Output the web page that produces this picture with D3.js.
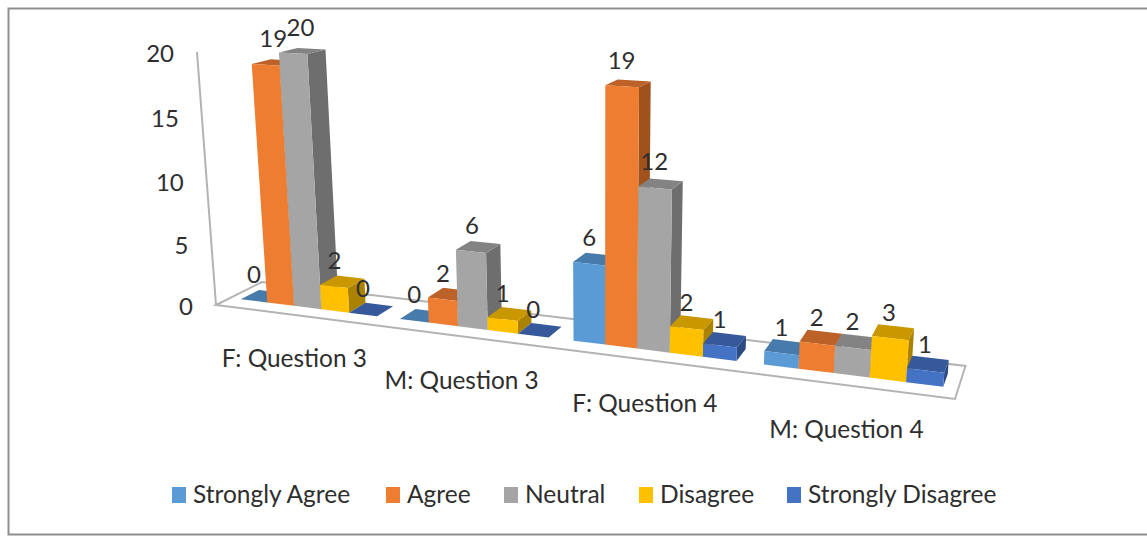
<!DOCTYPE html>
<html>
<head>
<meta charset="utf-8">
<script src="https://cdn.jsdelivr.net/npm/d3@7"></script>
<style>
  html, body { margin: 0; padding: 0; background: #fff; }
  svg { display: block; }
  text { font-family: Lato, "Open Sans", sans-serif; fill: #2e2e2e; }
</style>
</head>
<body>
<div id="chart"></div>
<script>
const categories = ["F: Question 3", "M: Question 3", "F: Question 4", "M: Question 4"];
const seriesNames = ["Strongly Agree", "Agree", "Neutral", "Disagree", "Strongly Disagree"];
const stronglyAgree = [0, 0, 6, 1];
const agree = [19, 2, 19, 2];
const neutral = [20, 6, 12, 2];
const disagree = [2, 1, 2, 3];
const stronglyDisagree = [0, 0, 1, 1];
const valueTicks = [0, 5, 10, 15, 20];

const seriesValues = [stronglyAgree, agree, neutral, disagree, stronglyDisagree];
const frontColors = ["#5b9bd5", "#ed7d31", "#a5a5a5", "#ffc000", "#4472c4"];
const topColors = ["#477bab", "#bc6127", "#838383", "#c99700", "#35599b"];
const sideColors = ["#3c6890", "#a0521d", "#6e6e6e", "#ab8200", "#2d4b83"];

const width = 1147;
const height = 536;

// corners of the floor and top of the value axis, in page pixels
const floorFrontLeft = [216, 305];
const floorFrontRight = [955, 399];
const floorBackLeft = [262, 282];
const axisTop = [197, 52];

// perspective weights for the three chart directions
const wU = 0.83;
const wD = 1.053;
const wH = 0.953;

function column(corner, w) {
  return [w * corner[0] - floorFrontLeft[0], w * corner[1] - floorFrontLeft[1], w - 1];
}
const pU = column(floorFrontRight, wU);
const pD = column(floorBackLeft, wD);
const pH = column(axisTop, wH);

// u along the categories, d into the depth, h up the value axis, all 0..1
function project(u, d, h) {
  const x = pU[0] * u + pD[0] * d + pH[0] * h + floorFrontLeft[0];
  const y = pU[1] * u + pD[1] * d + pH[1] * h + floorFrontLeft[1];
  const w = pU[2] * u + pD[2] * d + pH[2] * h + 1;
  return [x / w, y / w];
}

const uScale = d3.scaleBand()
  .domain(categories)
  .range([0, 1])
  .paddingInner(0.138)
  .paddingOuter(0.069);

const seriesScale = d3.scaleBand()
  .domain(seriesNames)
  .range([0, uScale.bandwidth()]);

const hScale = d3.scaleLinear()
  .domain([0, 20])
  .range([0, 1]);

// bars sit in the middle of the floor depth
const barFront = 0.3;
const barBack = 0.7;

const svg = d3.select("#chart")
  .append("svg")
  .attr("width", width)
  .attr("height", height);

const polygon = d3.line().curve(d3.curveLinearClosed);

svg.append("path")
  .attr("d", `M${width},8.5H8.5V534.5H${width}`)
  .attr("fill", "none")
  .attr("stroke", "#8e8e8e")
  .attr("stroke-width", 2);

// floor and value axis line
svg.append("path")
  .attr("d", polygon([project(0, 0, 0), project(1, 0, 0), project(1, 1, 0), project(0, 1, 0)]))
  .attr("fill", "#fff")
  .attr("stroke", "#b3b3b3")
  .attr("stroke-width", 2);

svg.append("path")
  .attr("d", d3.line()([project(0, 0, 0), project(0, 0, 1)]))
  .attr("fill", "none")
  .attr("stroke", "#b3b3b3")
  .attr("stroke-width", 2);

svg.selectAll(".tick-label")
  .data(valueTicks)
  .enter().append("text")
  .attr("class", "tick-label")
  .attr("x", d => project(0, 0, hScale(d))[0] - 23)
  .attr("y", d => project(0, 0, hScale(d))[1])
  .attr("text-anchor", "end")
  .attr("dominant-baseline", "central")
  .style("font-size", "24px")
  .text(d => d);

svg.selectAll(".cat-label")
  .data(categories)
  .enter().append("text")
  .attr("class", "cat-label")
  .attr("x", d => project(uScale(d) + uScale.bandwidth() / 2, 0, 0)[0])
  .attr("y", d => project(uScale(d) + uScale.bandwidth() / 2, 0, 0)[1] + 43)
  .attr("text-anchor", "middle")
  .attr("dominant-baseline", "central")
  .style("font-size", "24.4px")
  .text(d => d);

// bars, left to right so each one covers the side of the previous
const bars = [];
categories.forEach((cat, c) => {
  seriesNames.forEach((name, s) => {
    bars.push({ cat, name, s, value: seriesValues[s][c] });
  });
});

const barGroups = svg.selectAll(".bar")
  .data(bars)
  .enter().append("g")
  .attr("class", "bar");

barGroups.each(function(d) {
  const g = d3.select(this);
  const u0 = uScale(d.cat) + seriesScale(d.name);
  const u1 = u0 + seriesScale.bandwidth();
  const h = hScale(d.value);

  g.append("path")
    .attr("d", polygon([project(u1, barFront, 0), project(u1, barBack, 0), project(u1, barBack, h), project(u1, barFront, h)]))
    .attr("fill", sideColors[d.s]);
  g.append("path")
    .attr("d", polygon([project(u0, barFront, h), project(u1, barFront, h), project(u1, barBack, h), project(u0, barBack, h)]))
    .attr("fill", topColors[d.s]);
  g.append("path")
    .attr("d", polygon([project(u0, barFront, 0), project(u1, barFront, 0), project(u1, barFront, h), project(u0, barFront, h)]))
    .attr("fill", frontColors[d.s]);
});

// value labels go on top of everything
svg.selectAll(".value-label")
  .data(bars)
  .enter().append("text")
  .attr("class", "value-label")
  .attr("x", d => {
    const u = uScale(d.cat) + seriesScale(d.name) + seriesScale.bandwidth() / 2;
    return (project(u, barFront, hScale(d.value))[0] + project(u, barFront, 0)[0]) / 2;
  })
  .attr("y", d => {
    const u = uScale(d.cat) + seriesScale(d.name) + seriesScale.bandwidth() / 2;
    return project(u, barFront, hScale(d.value))[1] - 27;
  })
  .attr("text-anchor", "middle")
  .attr("dominant-baseline", "central")
  .style("font-size", "24px")
  .text(d => d.value);

// legend
const legendSwatchX = [172, 386, 504, 639, 787];
const legend = svg.selectAll(".legend")
  .data(seriesNames)
  .enter().append("g")
  .attr("class", "legend")
  .attr("transform", (d, i) => `translate(${legendSwatchX[i]}, 487)`);

legend.append("rect")
  .attr("width", 14)
  .attr("height", 16)
  .attr("fill", (d, i) => frontColors[i]);

legend.append("text")
  .attr("x", 21)
  .attr("y", 6.5)
  .attr("dominant-baseline", "central")
  .style("font-size", "24.5px")
  .text(d => d);
</script>
</body>
</html>
